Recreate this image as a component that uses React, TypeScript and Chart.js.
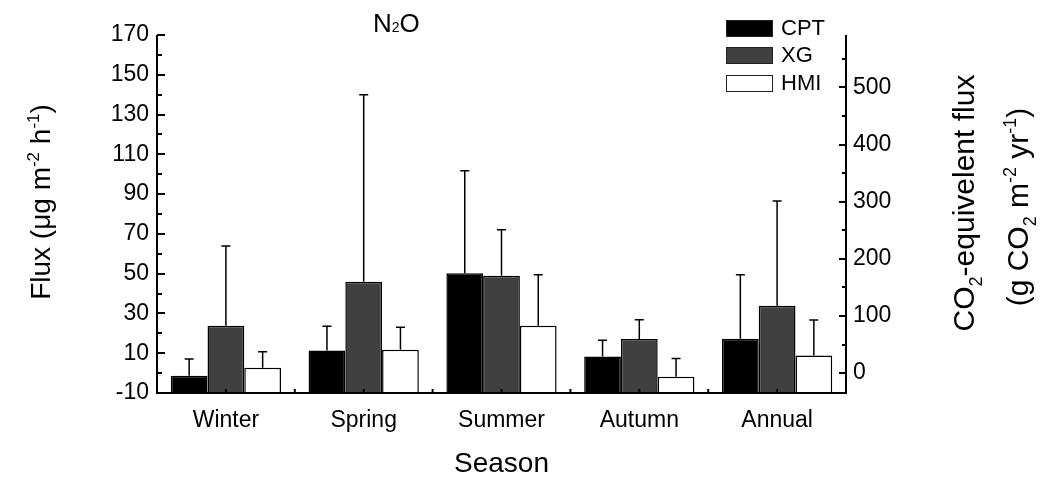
import React, { useEffect, useRef } from 'react';
import { Chart, registerables } from 'chart.js';

Chart.register(...registerables);

const FONT = '"Liberation Sans", Arial, Helvetica, sans-serif';

const categories = ['Winter', 'Spring', 'Summer', 'Autumn', 'Annual'];
const seriesNames = ['CPT', 'XG', 'HMI'];
const cptMean = [-1.3, 11.4, 50.2, 8.4, 17.3];
const cptErr = [8.4, 12.1, 51.5, 8.1, 32.1];
const xgMean = [23.8, 45.9, 48.9, 17.1, 33.9];
const xgErr = [40.1, 94.1, 23.2, 9.7, 52.6];
const hmiMean = [2.7, 11.8, 23.8, -1.8, 8.9];
const hmiErr = [8.1, 11.2, 25.6, 9.2, 17.8];
const seriesColors = ['#000000', '#404040', '#ffffff'];
const leftMin = -10;
const leftMax = 170;
const leftStep = 20;
const rightTicks = [0, 100, 200, 300, 400, 500];
const fluxToCO2 = 3.48;

const errors = [cptErr, xgErr, hmiErr];

type Seg = { t: string; size: number; dy: number };

function drawRich(ctx: CanvasRenderingContext2D, segs: Seg[], x: number, y: number, rot: number, align: 'center' | 'left') {
  ctx.save();
  ctx.translate(x, y);
  ctx.rotate(rot);
  ctx.textBaseline = 'alphabetic';
  ctx.textAlign = 'left';
  ctx.fillStyle = '#000';
  const widths = segs.map((s) => {
    ctx.font = `${s.size}px ${FONT}`;
    return ctx.measureText(s.t).width;
  });
  const total = widths.reduce((a, b) => a + b, 0);
  let cx = align === 'center' ? -total / 2 : 0;
  segs.forEach((s, i) => {
    ctx.font = `${s.size}px ${FONT}`;
    ctx.fillText(s.t, cx, s.dy);
    cx += widths[i];
  });
  ctx.restore();
}

const errorBarPlugin = {
  id: 'errorBars',
  afterDatasetsDraw(chart: any) {
    const ctx: CanvasRenderingContext2D = chart.ctx;
    const yScale = chart.scales.y;
    ctx.save();
    ctx.strokeStyle = '#000';
    ctx.lineWidth = 1.5;
    chart.data.datasets.forEach((ds: any, i: number) => {
      const meta = chart.getDatasetMeta(i);
      meta.data.forEach((el: any, j: number) => {
        const top = yScale.getPixelForValue(ds.data[j] + errors[i][j]);
        ctx.beginPath();
        ctx.moveTo(el.x, el.y);
        ctx.lineTo(el.x, top);
        ctx.moveTo(el.x - 4.5, top);
        ctx.lineTo(el.x + 4.5, top);
        ctx.stroke();
      });
    });
    ctx.restore();
  },
};

const decorPlugin = {
  id: 'decor',
  afterDraw(chart: any) {
    const ctx: CanvasRenderingContext2D = chart.ctx;
    const { left, right, top, bottom } = chart.chartArea;
    const y = chart.scales.y;
    const y1 = chart.scales.y1;
    const x = chart.scales.x;
    ctx.save();
    ctx.strokeStyle = '#000';
    ctx.lineWidth = 2;
    ctx.lineCap = 'butt';
    // axes
    ctx.beginPath();
    ctx.moveTo(left, top);
    ctx.lineTo(left, bottom + 1);
    ctx.moveTo(left - 1, bottom);
    ctx.lineTo(right + 1, bottom);
    ctx.moveTo(right, top);
    ctx.lineTo(right, bottom + 1);
    ctx.stroke();
    // left ticks (inward)
    ctx.beginPath();
    for (let v = leftMin; v <= leftMax; v += 10) {
      const py = Math.round(y.getPixelForValue(v));
      const len = (v - leftMin) % leftStep === 0 ? 8 : 5;
      ctx.moveTo(left, py);
      ctx.lineTo(left + len, py);
    }
    // right ticks (inward)
    for (let v = 0; v <= 550; v += 50) {
      const py = Math.round(y1.getPixelForValue(v));
      const len = v % 100 === 0 ? 7 : 4;
      ctx.moveTo(right, py);
      ctx.lineTo(right - len, py);
    }
    // bottom ticks (inward)
    const n = categories.length;
    for (let i = 0; i < n; i++) {
      const cx = x.getPixelForValue(i);
      ctx.moveTo(cx, bottom);
      ctx.lineTo(cx, bottom - 4);
      if (i < n - 1) {
        const bx = (cx + x.getPixelForValue(i + 1)) / 2;
        ctx.moveTo(bx, bottom);
        ctx.lineTo(bx, bottom - 4);
      }
    }
    ctx.stroke();
    ctx.restore();

    // title
    drawRich(ctx, [
      { t: 'N', size: 26, dy: 0 },
      { t: '2', size: 14, dy: 0 },
      { t: 'O', size: 26, dy: 0 },
    ], 373, 32, 0, 'left');

    // left axis title
    drawRich(ctx, [
      { t: 'Flux (\u03bcg m', size: 28, dy: 0 },
      { t: '-2', size: 17, dy: -11 },
      { t: ' h', size: 28, dy: 0 },
      { t: '-1', size: 17, dy: -11 },
      { t: ')', size: 28, dy: 0 },
    ], 50, 202, -Math.PI / 2, 'center');

    // right axis title
    drawRich(ctx, [
      { t: 'CO', size: 30, dy: 0 },
      { t: '2', size: 18, dy: 8 },
      { t: '-equivelent flux', size: 30, dy: 0 },
    ], 974, 203, -Math.PI / 2, 'center');
    drawRich(ctx, [
      { t: '(g CO', size: 30, dy: 0 },
      { t: '2', size: 18, dy: 8 },
      { t: ' m', size: 30, dy: 0 },
      { t: '-2', size: 18, dy: -12 },
      { t: ' yr', size: 30, dy: 0 },
      { t: '-1', size: 18, dy: -12 },
      { t: ')', size: 30, dy: 0 },
    ], 1028, 207, -Math.PI / 2, 'center');

    // x axis title
    drawRich(ctx, [{ t: 'Season', size: 28, dy: 0 }], (left + right) / 2, 472, 0, 'center');

    // legend
    const boxTops = [20, 47, 75];
    ctx.save();
    seriesNames.forEach((name, i) => {
      ctx.fillStyle = seriesColors[i];
      ctx.fillRect(726, boxTops[i], 47, 17);
      ctx.strokeStyle = '#222';
      ctx.lineWidth = 1;
      ctx.strokeRect(726.5, boxTops[i] + 0.5, 46, 16);
      ctx.fillStyle = '#000';
      ctx.font = `22px ${FONT}`;
      ctx.textAlign = 'left';
      ctx.textBaseline = 'middle';
      ctx.fillText(name, 781, boxTops[i] + 9);
    });
    ctx.restore();
  },
};

export default function App() {
  const ref = useRef<HTMLCanvasElement>(null);
  useEffect(() => {
    const canvas = ref.current;
    if (!canvas) return;
    const means = [cptMean, xgMean, hmiMean];
    const chart = new Chart(canvas, {
      type: 'bar',
      data: {
        labels: categories,
        datasets: seriesNames.map((name, i) => ({
          label: name,
          data: means[i],
          backgroundColor: seriesColors[i],
          borderColor: '#000',
          borderWidth: 1.5,
          base: leftMin,
          yAxisID: 'y',
          categoryPercentage: 0.8,
          barPercentage: 1.0,
        })) as any,
      },
      options: {
        responsive: false,
        animation: false,
        devicePixelRatio: 1,
        layout: { padding: { top: 35, left: 0, right: 0, bottom: 0 } },
        plugins: {
          legend: { display: false },
          tooltip: { enabled: false },
          title: { display: false },
        },
        scales: {
          x: {
            type: 'category',
            offset: true,
            grid: { display: false, drawTicks: false, tickLength: 0 },
            border: { display: false },
            ticks: {
              color: '#000',
              font: { family: FONT, size: 23 },
              padding: 14,
              maxRotation: 0,
              autoSkip: false,
            },
            afterFit: (s: any) => {
              s.height = 93;
            },
          },
          y: {
            type: 'linear',
            position: 'left',
            min: leftMin,
            max: leftMax,
            grid: { display: false, drawTicks: false, tickLength: 0 },
            border: { display: false },
            ticks: {
              stepSize: leftStep,
              color: '#000',
              font: { family: FONT, size: 23 },
              padding: 8,
            },
            afterFit: (s: any) => {
              s.width = 157;
            },
          },
          y1: {
            type: 'linear',
            display: true,
            position: 'right',
            min: leftMin * fluxToCO2,
            max: leftMax * fluxToCO2,
            grid: { display: false, drawTicks: false, tickLength: 0 },
            border: { display: false },
            ticks: {
              color: '#000',
              font: { family: FONT, size: 23 },
              padding: 7,
            },
            afterBuildTicks: (s: any) => {
              s.ticks = rightTicks.map((v) => ({ value: v }));
            },
            afterFit: (s: any) => {
              s.width = 198;
            },
          },
        },
      } as any,
      plugins: [errorBarPlugin, decorPlugin],
    });
    return () => chart.destroy();
  }, []);
  return (
    <div style={{ position: 'absolute', left: 0, top: 0, width: 1044, height: 486, background: '#fff' }}>
      <canvas ref={ref} width={1044} height={486} style={{ display: 'block', width: 1044, height: 486 }} />
    </div>
  );
}
